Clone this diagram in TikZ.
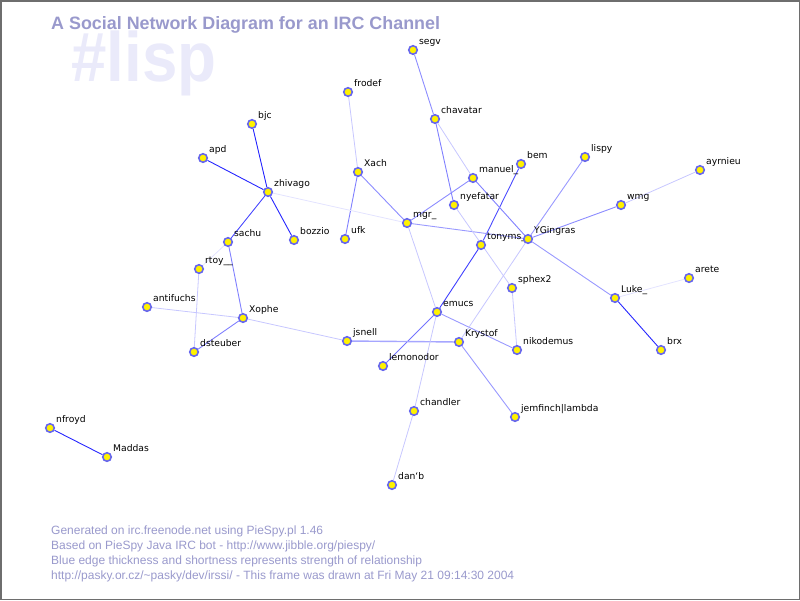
\documentclass[tikz,border=0pt]{standalone}
\usepackage{fontspec}
\setmainfont{DejaVu Sans}
\newfontfamily\headfont{Liberation Sans}
\usetikzlibrary{backgrounds}

\definecolor{ringblue}{RGB}{102,102,238}
\definecolor{headblue}{RGB}{153,153,204}
\definecolor{ghost}{RGB}{234,234,250}
\definecolor{framegray}{RGB}{110,110,110}

\begin{document}
\begin{tikzpicture}[x=1pt, y=-1pt,
  nick/.style={circle, draw=ringblue, fill=yellow, line width=1.6pt, minimum size=8.5pt, inner sep=0pt},
  lbl/.style={anchor=base west, inner sep=0pt, xshift=2.4pt, yshift=2.4pt, font=\fontsize{9.2}{9.2}\selectfont},
  note/.style={anchor=base west, inner sep=0pt, text=headblue, font=\headfont\fontsize{12}{12}\selectfont},
  strong/.style={blue!85, line width=0.9pt},
  medium/.style={blue!45, line width=0.9pt},
  weak/.style={blue!22, line width=0.8pt},
  faint/.style={blue!11, line width=0.8pt}]
  \useasboundingbox (0, 0) rectangle (800, 600);
  \draw [framegray, line width=1.5pt] (0.75, 0.75) rectangle (799.25, 599.25);

  % heading and channel name
  \node [anchor=base west, inner sep=0pt, text=ghost, xscale=0.91,
         font=\headfont\bfseries\fontsize{70}{70}\selectfont] (chan) at (71, 81) {\#lisp};
  \node [anchor=base west, inner sep=0pt, text=headblue,
         font=\headfont\bfseries\fontsize{17.9}{17.9}\selectfont] (title) at (51, 29)
        {A Social Network Diagram for an IRC Channel};

  % nicks
  \node [nick, label={[lbl]45:segv}] (segv) at (413, 50) {};
  \node [nick, label={[lbl]45:frodef}] (frodef) at (348, 92) {};
  \node [nick, label={[lbl]45:chavatar}] (chavatar) at (435, 119) {};
  \node [nick, label={[lbl]45:Xach}] (xach) at (358, 172) {};
  \node [nick, label={[lbl]45:manuel\_}] (manuel) at (473, 178) {};
  \node [nick, label={[lbl]45:bem}] (bem) at (521, 164) {};
  \node [nick, label={[lbl]45:lispy}] (lispy) at (585, 157) {};
  \node [nick, label={[lbl]45:ayrnieu}] (ayrnieu) at (700, 170) {};
  \node [nick, label={[lbl]45:wmg}] (wmg) at (621, 205) {};
  \node [nick, label={[lbl]45:nyefatar}] (nyefatar) at (454, 205) {};
  \node [nick, label={[lbl]45:mgr\_}] (mgr) at (407, 223) {};
  \node [nick, label={[lbl]45:tonyms\_}] (tonyms) at (481, 245) {};
  \node [nick, label={[lbl]45:YGingras}] (ygingras) at (528, 239) {};
  \node [nick, label={[lbl]45:ufk}] (ufk) at (345, 239) {};
  \node [nick, label={[lbl]45:zhivago}] (zhivago) at (268, 192) {};
  \node [nick, label={[lbl]45:bjc}] (bjc) at (252, 124) {};
  \node [nick, label={[lbl]45:apd}] (apd) at (203, 158) {};
  \node [nick, label={[lbl]45:bozzio}] (bozzio) at (294, 240) {};
  \node [nick, label={[lbl]45:sachu}] (sachu) at (228, 242) {};
  \node [nick, label={[lbl]45:rtoy\_\_}] (rtoy) at (199, 269) {};
  \node [nick, label={[lbl]45:antifuchs}] (antifuchs) at (147, 307) {};
  \node [nick, label={[lbl]45:Xophe}] (xophe) at (243, 318) {};
  \node [nick, label={[lbl]45:dsteuber}] (dsteuber) at (194, 352) {};
  \node [nick, label={[lbl]45:jsnell}] (jsnell) at (347, 341) {};
  \node [nick, label={[lbl]45:emucs}] (emucs) at (437, 312) {};
  \node [nick, label={[lbl]45:Krystof}] (krystof) at (459, 342) {};
  \node [nick, label={[lbl]45:sphex2}] (sphex) at (512, 288) {};
  \node [nick, label={[lbl]45:nikodemus}] (nikodemus) at (517, 350) {};
  \node [nick, label={[lbl]45:lemonodor}] (lemonodor) at (383, 366) {};
  \node [nick, label={[lbl]45:chandler}] (chandler) at (414, 411) {};
  \node [nick, label={[lbl]45:jemfinch|lambda}] (jemfinch) at (515, 417) {};
  \node [nick, label={[lbl]45:dan\symbol{96}b}] (danb) at (392, 485) {};
  \node [nick, label={[lbl]45:nfroyd}] (nfroyd) at (50, 428) {};
  \node [nick, label={[lbl]45:Maddas}] (maddas) at (107, 457) {};
  \node [nick, label={[lbl]45:arete}] (arete) at (689, 278) {};
  \node [nick, label={[lbl]45:Luke\_}] (luke) at (615, 298) {};
  \node [nick, label={[lbl]45:brx}] (brx) at (661, 350) {};

  % ties
  \begin{scope}[on background layer]
    \draw [strong] (zhivago) -- (bjc);
    \draw [strong] (zhivago) -- (apd);
    \draw [strong] (zhivago) -- (bozzio);
    \draw [strong, blue!70] (zhivago) -- (sachu);
    \draw [strong] (nfroyd) -- (maddas);
    \draw [strong] (luke) -- (brx);
    \draw [strong, blue!75] (emucs) -- (tonyms);
    \draw [strong, blue!70] (bem) -- (tonyms);
    \draw [medium, blue!55] (emucs) -- (lemonodor);
    \draw [medium] (segv) -- (chavatar);
    \draw [medium, blue!50] (chavatar) -- (nyefatar);
    \draw [medium, blue!50] (xach) -- (ufk);
    \draw [medium] (xach) -- (mgr);
    \draw [medium] (manuel) -- (mgr);
    \draw [medium, blue!50] (manuel) -- (ygingras);
    \draw [medium, blue!40] (mgr) -- (ygingras);
    \draw [medium, blue!35, line width=1.4pt] (jsnell) -- (krystof);
    \draw [medium, blue!40] (krystof) -- (jemfinch);
    \draw [medium, blue!40] (emucs) -- (nikodemus);
    \draw [medium, blue!40] (ygingras) -- (lispy);
    \draw [medium] (ygingras) -- (wmg);
    \draw [medium, blue!40] (ygingras) -- (luke);
    \draw [medium, blue!50] (sachu) -- (xophe);
    \draw [medium, blue!50] (xophe) -- (dsteuber);
    \draw [weak] (chavatar) -- (manuel);
    \draw [weak] (nyefatar) -- (sphex);
    \draw [weak] (krystof) -- (ygingras);
    \draw [weak] (sphex) -- (nikodemus);
    \draw [weak] (rtoy) -- (dsteuber);
    \draw [weak] (antifuchs) -- (xophe);
    \draw [weak] (xophe) -- (jsnell);
    \draw [weak] (wmg) -- (ayrnieu);
    \draw [weak] (chandler) -- (danb);
    \draw [weak] (emucs) -- (chandler);
    \draw [weak] (mgr) -- (emucs);
    \draw [weak] (frodef) -- (xach);
    \draw [faint] (zhivago) -- (mgr);
    \draw [faint] (sachu) -- (rtoy);
    \draw [faint] (luke) -- (arete);
  \end{scope}

  % footer
  \node [note] (gen) at (51, 534) {Generated on irc.freenode.net using PieSpy.pl 1.46};
  \node [note] (based) at (51, 549) {Based on PieSpy Java IRC bot - http://www.jibble.org/piespy/};
  \node [note] (legend) at (51, 564) {Blue edge thickness and shortness represents strength of relationship};
  \node [note] (drawn) at (51, 579) {http://pasky.or.cz/\textasciitilde pasky/dev/irssi/ - This frame was drawn at Fri May 21 09:14:30 2004};
\end{tikzpicture}
\end{document}
